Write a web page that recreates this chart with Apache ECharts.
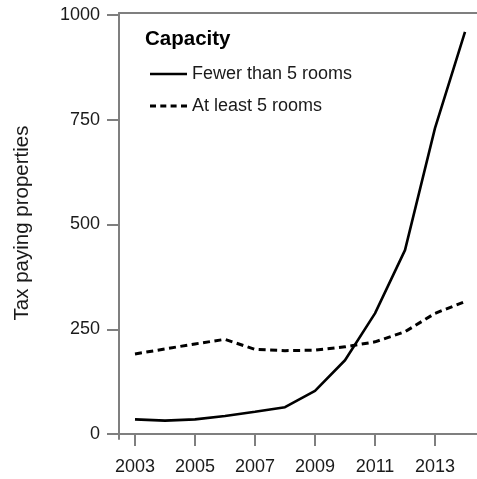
<!DOCTYPE html>
<html>
<head>
<meta charset="utf-8">
<script src="https://cdn.jsdelivr.net/npm/echarts@6/dist/echarts.min.js"></script>
<style>
  html, body { margin: 0; padding: 0; background: #ffffff; }
  #chart { width: 477px; height: 479px; }
</style>
</head>
<body>
<div id="chart"></div>
<script>
// Tax paying properties by year and capacity
const years = [2003, 2004, 2005, 2006, 2007, 2008, 2009, 2010, 2011, 2012, 2013, 2014];
const fewerThan5 = [35, 32, 35, 43, 53, 64, 103, 176, 288, 439, 730, 960];
const atLeast5 = [191, 203, 215, 226, 202, 199, 200, 208, 220, 244, 288, 316];
const xTicks = [2003, 2005, 2007, 2009, 2011, 2013];
const yTicks = [0, 250, 500, 750, 1000];
const seriesNames = ['Fewer than 5 rooms', 'At least 5 rooms'];
const legendTitle = 'Capacity';
const yTitle = 'Tax paying properties';

const FONT = '"Liberation Sans", Arial, sans-serif';
const AXIS_GREY = '#7f7f7f';
const TEXT = '#1a1a1a';

// Legend keys: a plain stroke and a four-dash stroke
const SOLID_KEY = 'path://M0,0H37V2.6H0Z';
const DASHED_KEY = 'path://M0,0h6v3h-6z M10.3,0h6v3h-6z M20.6,0h6v3h-6z M31,0h6v3h-6z';

const pair = (xs, ys) => xs.map((x, i) => [x, ys[i]]);

const chart = echarts.init(document.getElementById('chart'), null, { renderer: 'canvas' });

chart.setOption({
  backgroundColor: '#ffffff',
  animation: false,
  title: {
    text: legendTitle,
    left: 140,
    top: 24,
    textStyle: { fontFamily: FONT, fontSize: 20.5, fontWeight: 'bold', color: '#000' }
  },
  legend: {
    orient: 'vertical',
    left: 145,
    top: 60,
    itemWidth: 37,
    itemHeight: 14,
    itemGap: 14,
    symbolKeepAspect: true,
    itemStyle: { color: '#000', borderWidth: 0 },
    textStyle: { fontFamily: FONT, fontSize: 18, color: TEXT },
    data: [
      { name: seriesNames[0], icon: SOLID_KEY },
      { name: seriesNames[1], icon: DASHED_KEY }
    ]
  },
  grid: { left: 119, right: 0, top: 13, bottom: 40, containLabel: false },
  xAxis: [
    {
      type: 'value',
      min: 2002.467,
      max: 2014.4,
      splitLine: { show: false },
      axisLine: { show: true, lineStyle: { color: AXIS_GREY, width: 2 } },
      axisTick: { show: true, length: 12, lineStyle: { color: AXIS_GREY, width: 2 }, customValues: xTicks },
      axisLabel: {
        fontFamily: FONT, fontSize: 18, color: TEXT, margin: 19,
        customValues: xTicks, formatter: v => String(v)
      }
    },
    {
      type: 'value',
      position: 'top',
      min: 2002.467,
      max: 2014.4,
      splitLine: { show: false },
      axisLine: { show: true, lineStyle: { color: AXIS_GREY, width: 2 } },
      axisTick: { show: false },
      axisLabel: { show: false }
    }
  ],
  yAxis: {
    type: 'value',
    min: -11.9,
    max: 1004.8,
    name: yTitle,
    nameLocation: 'middle',
    nameRotate: 90,
    nameGap: 86,
    nameTextStyle: { fontFamily: FONT, fontSize: 20.5, color: TEXT, padding: [0, 0, 0, 6] },
    splitLine: { show: false },
    axisLine: { show: true, lineStyle: { color: AXIS_GREY, width: 2 } },
    axisTick: { show: true, length: 12, lineStyle: { color: AXIS_GREY, width: 2 }, customValues: yTicks },
    axisLabel: {
      fontFamily: FONT, fontSize: 18, color: TEXT, margin: 19,
      customValues: yTicks, formatter: v => String(v)
    }
  },
  series: [
    {
      name: seriesNames[0],
      type: 'line',
      data: pair(years, fewerThan5),
      symbol: 'none',
      smooth: false,
      lineStyle: { color: '#000', width: 2.6, type: 'solid' },
      itemStyle: { color: '#000' }
    },
    {
      name: seriesNames[1],
      type: 'line',
      data: pair(years, atLeast5),
      symbol: 'none',
      smooth: false,
      lineStyle: { color: '#000', width: 3, type: [7, 4.5] },
      itemStyle: { color: '#000' }
    }
  ]
});
</script>
</body>
</html>
